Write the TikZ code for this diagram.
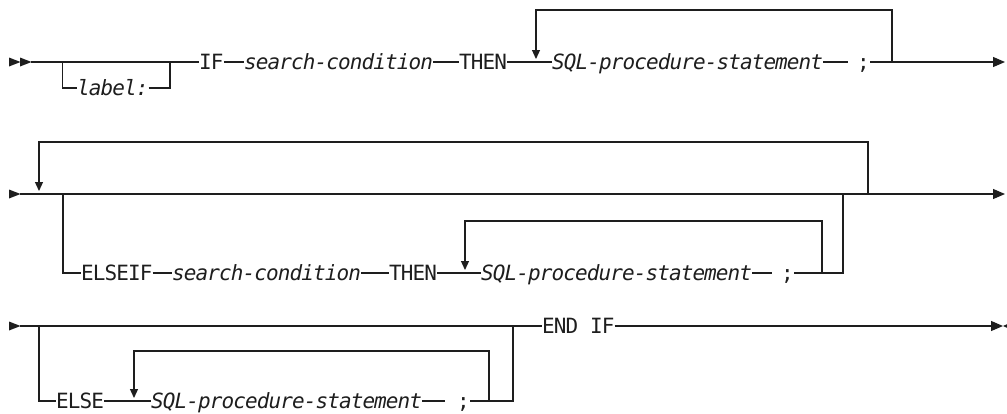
\documentclass[tikz,border=0pt]{standalone}
\usepackage{fontspec}
\newfontfamily\railfont{DejaVu Sans Mono}[LetterSpace=-4.3]
\usetikzlibrary{arrows.meta}
\definecolor{ink}{HTML}{1E1E1E}
\tikzset{
  word/.style={inner sep=0pt, text height=14pt, text depth=0pt, anchor=west, text=ink,
    font=\railfont\fontsize{21pt}{22pt}\selectfont},
  var/.style={word, font=\railfont\fontsize{21pt}{22pt}\selectfont\itshape},
  rail/.style={draw=ink, line width=1.2pt},
  endarrow/.style={rail, -{Triangle[width=10pt,length=12pt]}},
  looparrow/.style={rail, -{Triangle[width=8pt,length=9pt]}}
}
\begin{document}
\begin{tikzpicture}[x=1pt,y=-1pt]
\useasboundingbox (0,0) rectangle (1007,413);

% ---------- Row 1 ----------
\fill[ink] (9,57.5) -- (20.5,62) -- (9,66.5) -- cycle;
\fill[ink] (20,57.5) -- (31.5,62) -- (20,66.5) -- cycle;
\coordinate (s1) at (31,62);
\node[word] (if1) at (199,62) {IF};
\node[var] (sc1) at (244,62) {search-condition};
\node[word] (then1) at (459,62) {THEN};
\node[var] (sql1) at (552,62) {SQL-procedure-statement};
\node[word] (semi1) at (857,62) {;};
\node[var] (label) at (77,88) {label:};
\coordinate (d1) at (848,62);
\coordinate (e1) at (1005,62);
\coordinate (bl1) at (62.5,62);
\coordinate (br1) at (170,62);
\coordinate (lr1) at (892,62);
\coordinate (la1) at (536,59);

\draw[rail] (s1) -- (if1.west);
\draw[rail] (bl1) |- (label.west);
\draw[rail] (label.east) -| (br1);
\draw[rail] (if1.east) -- (sc1.west);
\draw[rail] (sc1.east) -- (then1.west);
\draw[rail] (then1.east) -- (sql1.west);
\draw[rail] (sql1.east) -- (d1);
\draw[endarrow] (semi1.east) -- (e1);
\draw[looparrow] (lr1) -- (892,10) -| (la1);

% ---------- Row 2 ----------
\fill[ink] (9,189.5) -- (20.5,194) -- (9,198.5) -- cycle;
\coordinate (s2) at (20,194);
\coordinate (e2) at (1005,194);
\draw[endarrow] (s2) -- (e2);
\coordinate (lr2) at (868,194);
\coordinate (la2) at (39,191);
\draw[looparrow] (lr2) -- (868,142) -| (la2);

\node[word] (elseif) at (81,273) {ELSEIF};
\node[var] (sc2) at (172,273) {search-condition};
\node[word] (then2) at (389,273) {THEN};
\node[var] (sql2) at (481,273) {SQL-procedure-statement};
\node[word] (semi2) at (781,273) {;};
\coordinate (d2) at (772,273);
\coordinate (bl2) at (63,194);
\coordinate (br2) at (843,194);
\coordinate (lr3) at (822,273);
\coordinate (la3) at (465,270);

\draw[rail] (bl2) |- (elseif.west);
\draw[rail] (elseif.east) -- (sc2.west);
\draw[rail] (sc2.east) -- (then2.west);
\draw[rail] (then2.east) -- (sql2.west);
\draw[rail] (sql2.east) -- (d2);
\draw[rail] (semi2.east) -| (br2);
\draw[looparrow] (lr3) -- (822,221) -| (la3);

% ---------- Row 3 ----------
\fill[ink] (9,321.5) -- (20.5,326) -- (9,330.5) -- cycle;
\coordinate (s3) at (20,326);
\node[word] (endif) at (542,326) {END IF};
\coordinate (e3) at (1003,326);
\draw[rail] (s3) -- (endif.west);
\draw[endarrow] (endif.east) -- (e3);
\fill[ink] (1003,326) -- (1007.5,324) -- (1007.5,328) -- cycle;

\node[word] (else) at (56,401) {ELSE};
\node[var] (sql3) at (151,401) {SQL-procedure-statement};
\node[word] (semi3) at (457,401) {;};
\coordinate (d3) at (445,401);
\coordinate (bl3) at (39,326);
\coordinate (br3) at (513,326);
\coordinate (lr4) at (489,401);
\coordinate (la4) at (134,398);

\draw[rail] (bl3) |- (else.west);
\draw[rail] (else.east) -- (sql3.west);
\draw[rail] (sql3.east) -- (d3);
\draw[rail] (semi3.east) -| (br3);
\draw[looparrow] (lr4) -- (489,351) -| (la4);
\end{tikzpicture}
\end{document}
